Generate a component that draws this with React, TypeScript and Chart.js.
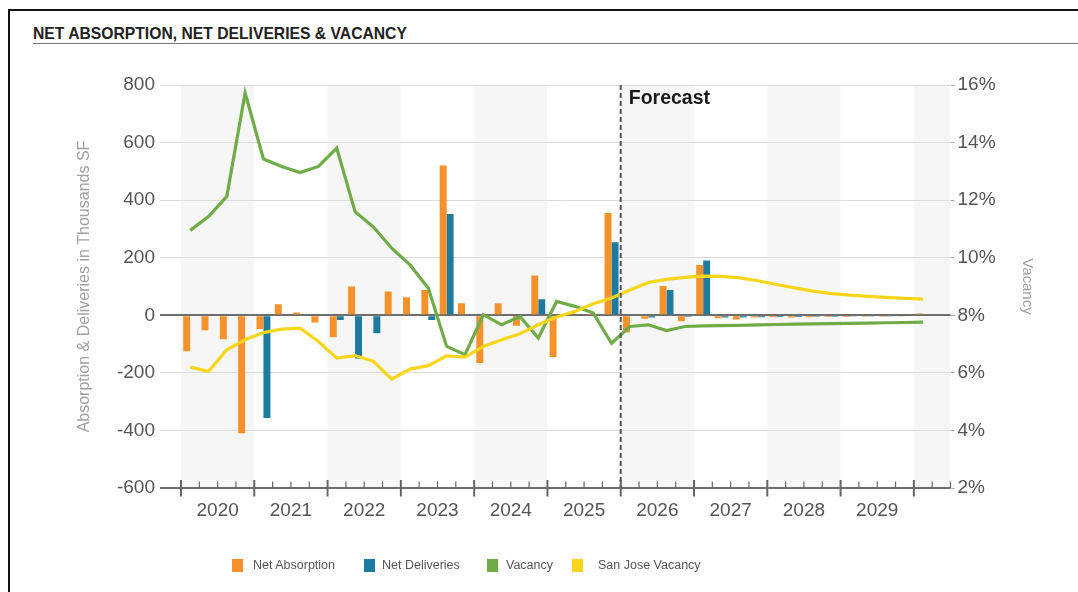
import React, { useEffect, useRef } from 'react';
import { Chart, registerables } from 'chart.js';

Chart.register(...registerables);

// ---------- data ----------
const YEARS = ['2020', '2021', '2022', '2023', '2024', '2025', '2026', '2027', '2028', '2029', '2030'];
const QUARTERS = ['Q1', 'Q2', 'Q3', 'Q4'];
const LABELED_YEARS = ['2020', '2021', '2022', '2023', '2024', '2025', '2026', '2027', '2028', '2029'];
const QUARTER_LABELS: string[] = [];
YEARS.forEach((y) => QUARTERS.forEach((q) => QUARTER_LABELS.push(`${y} ${q}`)));
QUARTER_LABELS.splice(42); // 2020 Q1 .. 2030 Q2

const NET_ABSORPTION = [
  -125, -52, -83, -410,
  -48, 38, 10, -25,
  -76, 100, 0, 83,
  63, 88, 520, 42,
  -166, 42, -36, 138,
  -145, 12, 2, 355,
  -60, -12, 102, -21,
  175, -10, -15, -8,
  -7, -8, -7, -6,
  -6, -5, -5, -4,
  6, null,
];

const NET_DELIVERIES = [
  0, 0, 0, 0,
  -357, 0, 0, 0,
  -16, -150, -62, 0,
  0, -16, 352, 0,
  0, 0, 0, 56,
  0, 0, 0, 254,
  0, -8, 88, -5,
  190, -8, -8, -7,
  -6, -6, -5, -5,
  -4, -4, -4, -3,
  -3, null,
];

const VACANCY = [
  10.95, 11.43, 12.13, 15.72,
  13.43, 13.17, 12.96, 13.17,
  13.81, 11.6, 11.07, 10.33,
  9.75, 8.94, 6.92, 6.63,
  8.02, 7.67, 7.96, 7.21,
  8.48, 8.31, 8.08, 7.03,
  7.61, 7.67, 7.47, 7.61,
  7.63, 7.64, 7.65, 7.67,
  7.68, 7.69, 7.7, 7.71,
  7.72, 7.73, 7.74, 7.75,
  7.76, null,
];

const SAN_JOSE_VACANCY = [
  6.2, 6.05, 6.8, 7.15,
  7.4, 7.52, 7.55, 7.09,
  6.51, 6.6, 6.4, 5.78,
  6.13, 6.25, 6.59, 6.55,
  6.92, 7.15, 7.36, 7.67,
  7.94, 8.13, 8.4, 8.6,
  8.88, 9.14, 9.25, 9.32,
  9.36, 9.35, 9.3, 9.2,
  9.07, 8.95, 8.84, 8.75,
  8.7, 8.66, 8.62, 8.59,
  8.56, null,
];

const FORECAST_START = '2026 Q1';
const SHADED_YEARS = ['2020', '2022', '2024', '2026', '2028', '2030'];

const LEFT_TICKS = { min: -600, max: 800, step: 200 };
const RIGHT_TICKS = { min: 2, max: 16, step: 2 };

const COLORS = {
  absorption: '#F3912B',
  deliveries: '#1D7BA0',
  vacancy: '#6FAC47',
  sanJose: '#F7D51A',
};

const FONT = '"Liberation Sans", Arial, Helvetica, sans-serif';

// ---------- plugin for bands, forecast marker, x ticks ----------
const decorPlugin = {
  id: 'decor',
  beforeDraw(chart: any) {
    const { ctx, chartArea, scales } = chart;
    const x = scales.x;
    const w = x.getPixelForValue(1) - x.getPixelForValue(0);
    ctx.save();
    ctx.fillStyle = 'rgba(0,0,0,0.035)';
    SHADED_YEARS.forEach((yr) => {
      const idx = QUARTER_LABELS.findIndex((l) => l.startsWith(yr));
      if (idx < 0) return;
      let last = idx;
      while (last + 1 < QUARTER_LABELS.length && QUARTER_LABELS[last + 1].startsWith(yr)) last++;
      const left = x.getPixelForValue(idx) - w / 2;
      const right = x.getPixelForValue(last) + w / 2;
      ctx.fillRect(left, chartArea.top, right - left, chartArea.bottom - chartArea.top);
    });
    ctx.restore();
  },
  afterDatasetsDraw(chart: any) {
    const { ctx, chartArea, scales } = chart;
    const x = scales.x;
    const w = x.getPixelForValue(1) - x.getPixelForValue(0);
    const bottom = chartArea.bottom;
    ctx.save();
    // quarter / year ticks
    ctx.strokeStyle = '#666';
    for (let i = 0; i <= QUARTER_LABELS.length; i++) {
      const px = i < QUARTER_LABELS.length ? x.getPixelForValue(i) - w / 2 : x.getPixelForValue(i - 1) + w / 2;
      const major = i < QUARTER_LABELS.length && QUARTER_LABELS[i].endsWith('Q1');
      ctx.beginPath();
      ctx.lineWidth = major ? 2 : 1.2;
      ctx.moveTo(px, bottom - (major ? 8 : 6.5));
      ctx.lineTo(px, bottom + (major ? 8.5 : 0));
      ctx.stroke();
    }
    // forecast divider
    const fi = QUARTER_LABELS.indexOf(FORECAST_START);
    const fx = x.getPixelForValue(fi) - w / 2;
    ctx.beginPath();
    ctx.setLineDash([5, 3]);
    ctx.lineWidth = 2;
    ctx.strokeStyle = '#555';
    ctx.moveTo(fx, chartArea.top);
    ctx.lineTo(fx, bottom);
    ctx.stroke();
    ctx.setLineDash([]);
    ctx.fillStyle = '#1a1a1a';
    ctx.font = `bold 19.5px ${FONT}`;
    ctx.textAlign = 'left';
    ctx.textBaseline = 'alphabetic';
    ctx.fillText('Forecast', fx + 8, chartArea.top + 18.5);
    ctx.restore();
  },
};

const LEGEND_ITEMS = [
  { label: 'Net Absorption', color: COLORS.absorption, box: 232, text: 253 },
  { label: 'Net Deliveries', color: COLORS.deliveries, box: 364, text: 382 },
  { label: 'Vacancy', color: COLORS.vacancy, box: 487, text: 506 },
  { label: 'San Jose Vacancy', color: COLORS.sanJose, box: 572, text: 598 },
];

export default function App() {
  const canvasRef = useRef<HTMLCanvasElement | null>(null);

  useEffect(() => {
    if (!canvasRef.current) return;
    Chart.defaults.font.family = FONT;
    const chart = new Chart(canvasRef.current, {
      type: 'bar',
      data: {
        labels: QUARTER_LABELS,
        datasets: [
          {
            type: 'line',
            label: 'San Jose Vacancy',
            data: SAN_JOSE_VACANCY,
            yAxisID: 'y1',
            borderColor: COLORS.sanJose,
            borderWidth: 3.2,
            pointRadius: 0,
            tension: 0,
            fill: false,
            order: 0,
          },
          {
            type: 'line',
            label: 'Vacancy',
            data: VACANCY,
            yAxisID: 'y1',
            borderColor: COLORS.vacancy,
            borderWidth: 3.2,
            pointRadius: 0,
            tension: 0,
            fill: false,
            order: 1,
          },
          {
            type: 'bar',
            label: 'Net Absorption',
            data: NET_ABSORPTION,
            yAxisID: 'y',
            backgroundColor: COLORS.absorption,
            borderWidth: 0,
            categoryPercentage: 0.76,
            barPercentage: 1,
            order: 2,
          },
          {
            type: 'bar',
            label: 'Net Deliveries',
            data: NET_DELIVERIES,
            yAxisID: 'y',
            backgroundColor: COLORS.deliveries,
            borderWidth: 0,
            categoryPercentage: 0.76,
            barPercentage: 1,
            order: 2,
          },
        ] as any,
      },
      options: {
        responsive: false,
        animation: false,
        events: [],
        layout: { padding: { left: 0, right: 0, top: 85, bottom: 0 } },
        plugins: { legend: { display: false }, tooltip: { enabled: false } },
        scales: {
          x: {
            type: 'category',
            offset: true,
            grid: { display: false, drawTicks: false },
            border: { display: false },
            ticks: {
              autoSkip: false,
              maxRotation: 0,
              minRotation: 0,
              labelOffset: 9.16,
              padding: 11.6,
              color: '#555',
              font: { size: 19 },
              callback: (_v: any, i: number) => {
                const lab = QUARTER_LABELS[i];
                const yr = lab.slice(0, 4);
                return lab.endsWith('Q2') && LABELED_YEARS.includes(yr) ? yr : '';
              },
            },
            afterFit: (s: any) => {
              s.height = 104;
            },
          },
          y: {
            position: 'left',
            min: LEFT_TICKS.min,
            max: LEFT_TICKS.max,
            border: { display: false },
            ticks: { stepSize: LEFT_TICKS.step, color: '#555', font: { size: 19 }, padding: 5 },
            grid: {
              tickLength: 21,
              color: (c: any) => (c.tick && (c.tick.value === 0 || c.tick.value === LEFT_TICKS.min) ? '#6e6e6e' : '#dcdcdc'),
              lineWidth: (c: any) => (c.tick && (c.tick.value === 0 || c.tick.value === LEFT_TICKS.min) ? 2 : 1),
            },
            title: {
              display: true,
              text: 'Absorption & Deliveries in Thousands SF',
              color: '#a0a0a0',
              font: { size: 16 },
              padding: { top: 75, bottom: 0 },
            },
            afterFit: (s: any) => {
              s.width = 181;
            },
          },
          y1: {
            position: 'right',
            min: RIGHT_TICKS.min,
            max: RIGHT_TICKS.max,
            border: { display: false },
            ticks: {
              stepSize: RIGHT_TICKS.step,
              color: '#555',
              font: { size: 19 },
              padding: 3,
              callback: (v: any) => `${v}%`,
            },
            grid: { drawOnChartArea: false, tickLength: 4, color: '#aaa' },
            title: {
              display: true,
              text: 'Vacancy',
              color: '#a0a0a0',
              font: { size: 15 },
              padding: { top: 42, bottom: 0 },
            },
            afterFit: (s: any) => {
              s.width = 127.5;
            },
          },
        },
      } as any,
      plugins: [decorPlugin],
    });
    return () => chart.destroy();
  }, []);

  return (
    <div
      style={{
        position: 'absolute',
        left: 0,
        top: 0,
        width: 1078,
        height: 592,
        overflow: 'hidden',
        background: '#fff',
        fontFamily: FONT,
      }}
    >
      <div
        style={{
          position: 'absolute',
          left: 8,
          top: 9,
          width: 1200,
          height: 800,
          borderLeft: '2px solid #111',
          borderTop: '2px solid #111',
        }}
      />
      <div
        style={{
          position: 'absolute',
          left: 33,
          top: 26,
          fontSize: 15.7,
          lineHeight: 1,
          fontWeight: 'bold',
          color: '#222',
          whiteSpace: 'nowrap',
        }}
      >
        NET ABSORPTION, NET DELIVERIES &amp; VACANCY
      </div>
      <div style={{ position: 'absolute', left: 33, top: 43, width: 1045, height: 1, background: '#777' }} />
      <canvas
        ref={canvasRef}
        width={1078}
        height={592}
        style={{ position: 'absolute', left: 0, top: 0, width: 1078, height: 592, display: 'block' }}
      />
      {LEGEND_ITEMS.map((it) => (
        <React.Fragment key={it.label}>
          <div
            style={{
              position: 'absolute',
              left: it.box,
              top: 558.5,
              width: 10.5,
              height: 13,
              background: it.color,
            }}
          />
          <div
            style={{
              position: 'absolute',
              left: it.text,
              top: 557.5,
              height: 15,
              lineHeight: '15px',
              fontSize: 12.5,
              color: '#555',
              whiteSpace: 'nowrap',
            }}
          >
            {it.label}
          </div>
        </React.Fragment>
      ))}
    </div>
  );
}
